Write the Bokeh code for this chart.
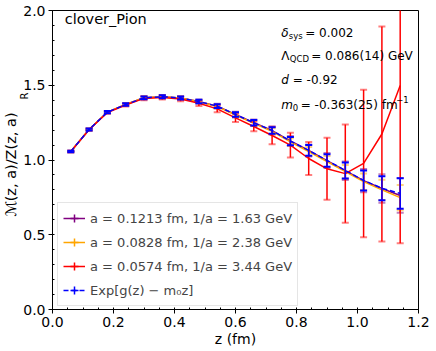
import numpy as np
from bokeh.plotting import figure
from bokeh.models import (Label, Legend, LegendItem, FixedTicker,
                          PrintfTickFormatter, Range1d)
from bokeh.embed import file_html
from bokeh.resources import INLINE

# ---------------- data ----------------
z = [0.06, 0.12, 0.18, 0.24, 0.30, 0.36, 0.42, 0.48, 0.54, 0.60,
     0.66, 0.72, 0.78, 0.84, 0.90, 0.96, 1.02, 1.08, 1.14]

purple_y = [1.057, 1.204, 1.320, 1.371, 1.416, 1.423, 1.415, 1.391, 1.360, 1.304,
            1.249, 1.197, 1.128, 1.064, 0.996, 0.928, 0.862, 0.809, 0.763]
purple_err = [0.005, 0.006, 0.007, 0.008, 0.010, 0.011, 0.012, 0.014, 0.016, 0.019,
              0.022, 0.027, 0.033, 0.040, 0.050, 0.062, 0.078, 0.095, 0.116]

orange_y = [1.057, 1.204, 1.320, 1.371, 1.416, 1.423, 1.414, 1.390, 1.358, 1.301,
            1.245, 1.192, 1.121, 1.057, 0.990, 0.922, 0.855, 0.800, 0.748]
orange_err = [0.004, 0.005, 0.006, 0.007, 0.008, 0.009, 0.010, 0.011, 0.012, 0.014,
              0.017, 0.020, 0.025, 0.030, 0.036, 0.045, 0.055, 0.068, 0.084]

red_y = [1.057, 1.203, 1.318, 1.368, 1.412, 1.418, 1.408, 1.380, 1.342, 1.282,
         1.224, 1.164, 1.100, 1.010, 0.941, 0.909, 0.977, 1.174, 1.498]
red_err = [0.006, 0.007, 0.008, 0.010, 0.012, 0.013, 0.015, 0.018, 0.022, 0.028,
           0.032, 0.059, 0.083, 0.110, 0.207, 0.329, 0.493, 0.719, 1.055]

fit_y = [1.057, 1.204, 1.320, 1.371, 1.416, 1.423, 1.415, 1.391, 1.360, 1.304,
         1.249, 1.197, 1.126, 1.064, 0.997, 0.930, 0.863, 0.811, 0.776]
fit_err = [0.005, 0.006, 0.007, 0.008, 0.009, 0.010, 0.010, 0.012, 0.013, 0.015,
           0.018, 0.022, 0.028, 0.036, 0.042, 0.053, 0.067, 0.080, 0.102]

series_labels = ["a = 0.1213 fm, 1/a = 1.63 GeV",
                 "a = 0.0828 fm, 1/a = 2.38 GeV",
                 "a = 0.0574 fm, 1/a = 3.44 GeV",
                 "Exp[g(z) \u2212 m\u2080z]"]

x_ticks = [0.0, 0.2, 0.4, 0.6, 0.8, 1.0, 1.2]
y_ticks = [0.0, 0.5, 1.0, 1.5, 2.0]

title_text = "clover_Pion"
FONT = "DejaVu Sans"

# ---------------- figure ----------------
p = figure(width=436, height=351, x_range=Range1d(0, 1.2), y_range=Range1d(0, 2.0),
           output_backend="svg", toolbar_location=None,
           min_border_left=52, min_border_right=18, min_border_top=10, min_border_bottom=42)
p.xgrid.visible = False
p.ygrid.visible = False
p.outline_line_color = "black"
p.outline_line_width = 1
p.background_fill_color = "white"

p.xaxis.ticker = FixedTicker(ticks=x_ticks, minor_ticks=list(np.round(np.arange(0, 1.2001, 0.05), 3)))
p.yaxis.ticker = FixedTicker(ticks=y_ticks, minor_ticks=list(np.round(np.arange(0, 2.0001, 0.1), 3)))
for ax in (p.xaxis[0], p.yaxis[0]):
    ax.formatter = PrintfTickFormatter(format="%.1f")
    ax.major_tick_in = 0
    ax.major_tick_out = 4
    ax.minor_tick_in = 2
    ax.minor_tick_out = 0
    ax.axis_line_color = "black"
    ax.major_tick_line_color = "black"
    ax.minor_tick_line_color = "black"
    ax.major_label_text_font = FONT
    ax.major_label_text_font_size = "14px"
    ax.major_label_text_color = "black"
    ax.axis_label_text_font = FONT
    ax.axis_label_text_font_size = "14px"
    ax.axis_label_text_font_style = "normal"
    ax.axis_label_text_color = "black"
    ax.major_label_standoff = 3
    ax.axis_label_standoff = 1

p.xaxis.axis_label = "z (fm)"
p.yaxis.axis_label = "\u2133(z, a)/Z(z, a)\u00a0\u00a0"
p.yaxis.axis_label_text_font_size = "14.5px"

# ---------------- series ----------------
def draw(ys, errs, color, dashed=False, cap_alpha=0.5):
    ys = np.array(ys)
    errs = np.array(errs)
    lo = ys - errs
    hi = ys + errs
    line = p.line(z, list(ys), line_color=color, line_width=1.5,
                  line_dash="5 3" if dashed else "solid")
    p.segment(x0=z, y0=list(lo), x1=z, y1=list(hi), line_color=color, line_width=1.5)
    p.scatter(x=z + z, y=list(lo) + list(hi), marker="dash", size=7,
              line_color=color, line_width=2, line_alpha=cap_alpha)
    key = p.scatter(x=[-1.0], y=[-1.0], marker="cross", size=10,
                    line_color=color, line_width=1.5)
    return [line, key]

r_purple = draw(purple_y, purple_err, "purple")
r_orange = draw(orange_y, orange_err, "orange")
r_red = draw(red_y, red_err, "red")
r_fit = draw(fit_y, fit_err, "blue", dashed=True, cap_alpha=1.0)

legend = Legend(items=[LegendItem(label=series_labels[0], renderers=r_purple),
                       LegendItem(label=series_labels[1], renderers=r_orange),
                       LegendItem(label=series_labels[2], renderers=r_red),
                       LegendItem(label=series_labels[3], renderers=r_fit)],
                location=(5, 3))
legend.label_text_font = FONT
legend.label_text_font_size = "13px"
legend.glyph_width = 22
legend.glyph_height = 20
legend.label_height = 20
legend.spacing = 4
legend.padding = 5
legend.margin = 0
legend.label_standoff = 5
legend.border_line_color = "#cccccc"
legend.background_fill_alpha = 0.8
p.add_layout(legend)

# ---------------- annotations ----------------
def lab(x, y, text, size="12px", style="normal", xo=0, yo=0, **kw):
    p.add_layout(Label(x=x, y=y, text=text, text_font=FONT, text_font_size=size,
                       text_font_style=style, text_baseline="middle",
                       x_offset=xo, y_offset=yo, text_color="black", **kw))

lab(0.04, 1.94, title_text, size="14.5px")

ax_ = 0.75
lab(ax_, 1.85, "\u03b4", style="italic")
lab(ax_, 1.85, "sys", size="8.5px", xo=7.5, yo=-3)
lab(ax_, 1.85, "= 0.002", xo=24)

lab(ax_, 1.695, "\u039b")
lab(ax_, 1.695, "QCD", size="8.5px", xo=8.5, yo=-3)
lab(ax_, 1.695, "= 0.086(14) GeV", xo=30)

lab(ax_, 1.535, "d", style="italic")
lab(ax_, 1.535, "= -0.92", xo=11.5)

lab(ax_, 1.37, "m", style="italic")
lab(ax_, 1.37, "0", size="8.5px", xo=11.5, yo=-3)
lab(ax_, 1.37, "= -0.363(25) fm", xo=19.5)
lab(ax_, 1.37, "\u22121", size="8.5px", xo=115, yo=5)

# subscript R of the y-axis label (kept in a side panel so it is not clipped to the frame)
r_sub = Label(x=24, y=95.5, x_units="canvas", y_units="canvas", text="R", angle=np.pi / 2,
              text_font=FONT, text_font_size="10px", text_align="center",
              text_baseline="middle", text_color="black")
p.add_layout(r_sub, "above")

open("out.html", "w").write(file_html(p, INLINE))
